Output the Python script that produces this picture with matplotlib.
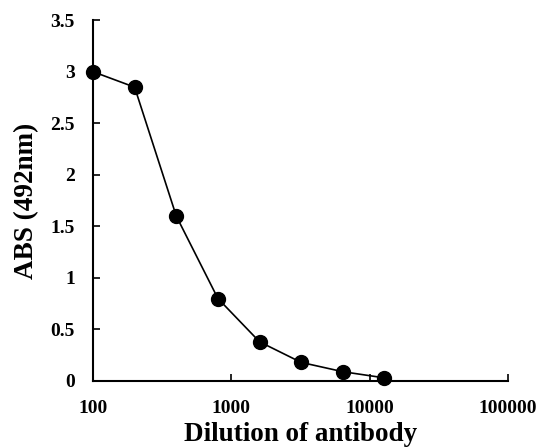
import matplotlib
matplotlib.use('Agg')
import matplotlib.pyplot as plt
from matplotlib.ticker import FixedLocator, NullLocator, FuncFormatter

dilution = [100, 200, 400, 800, 1600, 3200, 6400, 12800]
absorbance = [3.0, 2.85, 1.6, 0.8, 0.38, 0.18, 0.09, 0.03]

x_ticks = [100, 1000, 10000, 100000]
y_ticks = [0, 0.5, 1, 1.5, 2, 2.5, 3, 3.5]
y_labels = ['0', '0.5', '1', '1.5', '2', '2.5', '3', '3.5']

plt.rcParams['font.family'] = ['Liberation Serif', 'DejaVu Serif']
plt.rcParams['font.weight'] = 'bold'

fig = plt.figure(figsize=(5.39, 4.48), dpi=100)
ax = fig.add_axes([0.1725, 0.1496, 0.77, 0.8054])

ax.plot(dilution, absorbance, color='black', lw=1.2, marker='o',
        markersize=10, markerfacecolor='black', markeredgecolor='black',
        clip_on=False, zorder=3)

ax.set_xscale('log')
ax.set_xlim(100, 100000)
ax.set_ylim(0, 3.5)
ax.xaxis.set_major_locator(FixedLocator(x_ticks))
ax.xaxis.set_minor_locator(NullLocator())
ax.xaxis.set_major_formatter(FuncFormatter(lambda v, p: '%d' % v))
ax.set_yticks(y_ticks)
ax.set_yticklabels(y_labels)

for s in ['top', 'right']:
    ax.spines[s].set_visible(False)
for s in ['left', 'bottom']:
    ax.spines[s].set_linewidth(1.5)

ax.tick_params(axis='x', direction='in', length=5, width=1.2, pad=14, labelsize=14)
ax.tick_params(axis='y', direction='in', length=5, width=1.2, pad=13, labelsize=14)

ax.set_xlabel('Dilution of antibody', fontsize=19.5, fontweight='bold', labelpad=3)
ax.set_ylabel('ABS (492nm)', fontsize=19.5, fontweight='bold', labelpad=8)

fig.savefig('out.png', dpi=100)
